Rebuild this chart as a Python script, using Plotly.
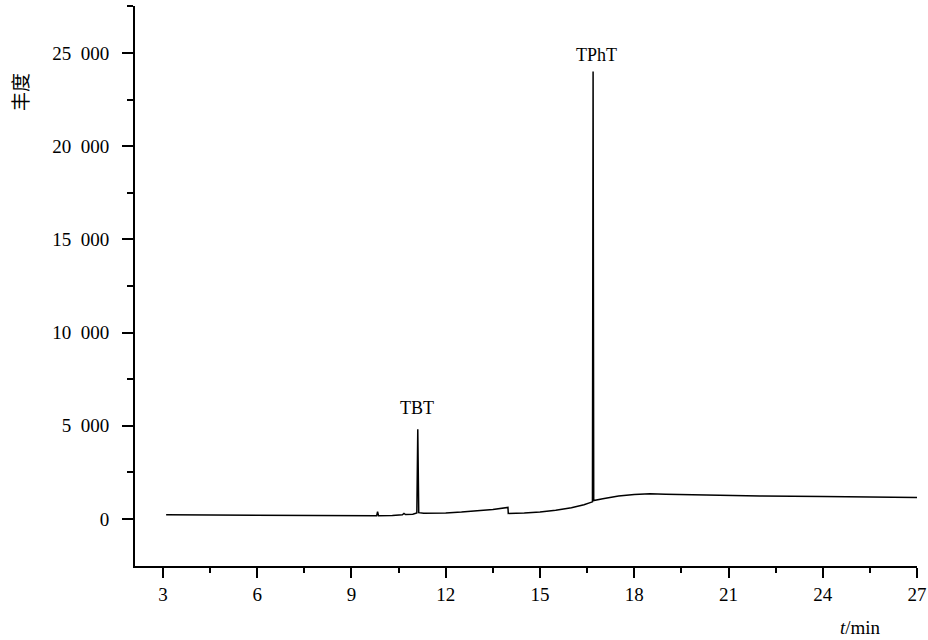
import plotly.graph_objects as go

# Retention time (min) and abundance
times = [3.1, 4.0, 5.0, 6.0, 7.0, 8.0, 9.0, 9.80, 9.83, 9.86, 10.3, 10.62, 10.67, 10.72,
         10.95, 11.08, 11.11, 11.14, 11.3, 12.0, 12.5, 13.0, 13.5, 13.98, 13.99, 14.5,
         15.0, 15.5, 16.0, 16.4, 16.67, 16.69, 16.71, 17.0, 17.5, 18.0, 18.5, 19.0,
         20.0, 22.0, 24.0, 26.0, 27.0]
abundance = [230, 220, 200, 190, 180, 170, 165, 170, 390, 175, 190, 230, 300, 240,
             260, 330, 4810, 340, 310, 320, 370, 430, 510, 620, 300, 320,
             370, 470, 600, 760, 920, 24000, 990, 1080, 1230, 1320, 1350, 1330,
             1290, 1240, 1210, 1170, 1150]

peak_names = ["TBT", "TPhT"]
peak_times = [11.1, 16.81]
peak_label_y = [5950, 24890]

x_major = [3, 6, 9, 12, 15, 18, 21, 24, 27]
y_major = [0, 5000, 10000, 15000, 20000, 25000]
y_major_text = ["0", "5\u2002000", "10\u2002000", "15\u2002000", "20\u2002000", "25\u2002000"]

serif = "Liberation Serif, DejaVu Serif, serif"
ink = "#000000"

fig = go.Figure()
fig.add_trace(go.Scatter(x=times, y=abundance, mode="lines",
                         line=dict(color=ink, width=1.5), showlegend=False,
                         hoverinfo="x+y"))

for name, t, yl in zip(peak_names, peak_times, peak_label_y):
    fig.add_annotation(x=t, y=yl, text=name, showarrow=False,
                       font=dict(family=serif, size=18, color=ink),
                       xanchor="center", yanchor="middle")

fig.add_annotation(xref="paper", yref="paper", x=(860 - 135) / 782, y=(566 - 627) / 560,
                   text="<i>t</i>/min", showarrow=False,
                   font=dict(family=serif, size=19, color=ink),
                   xanchor="center", yanchor="middle")
fig.add_annotation(xref="paper", yref="paper", x=(19 - 135) / 782, y=(566 - 92) / 560,
                   text="丰度", showarrow=False, textangle=-90,
                   font=dict(family="Noto Sans CJK SC", size=19, color=ink),
                   xanchor="center", yanchor="middle")

fig.update_layout(
    width=928, height=640,
    margin=dict(l=135, r=11, t=6, b=74, autoexpand=False),
    paper_bgcolor="white", plot_bgcolor="white",
    showlegend=False,
    font=dict(family=serif, size=19, color=ink),
)
fig.update_xaxes(
    range=[2.109, 27.0], tickmode="array", tickvals=x_major, automargin=False,
    ticks="outside", ticklen=10, tickwidth=1.5, tickcolor=ink,
    showline=True, linewidth=2, linecolor=ink, showgrid=False, zeroline=False,
    minor=dict(tickvals=[4.5, 7.5, 10.5, 13.5, 16.5, 19.5, 22.5, 25.5],
               ticks="outside", ticklen=5, tickwidth=1.5, tickcolor=ink, showgrid=False),
    tickfont=dict(family=serif, size=19, color=ink),
)
fig.update_yaxes(
    range=[-2521, 27515], tickmode="array", tickvals=y_major, ticktext=y_major_text,
    automargin=False,
    ticks="outside", ticklen=11, tickwidth=1.5, tickcolor=ink,
    showline=True, linewidth=2, linecolor=ink, showgrid=False, zeroline=False,
    minor=dict(tickvals=[2500, 7500, 12500, 17500, 22500, 27500],
               ticks="outside", ticklen=6, tickwidth=1.5, tickcolor=ink, showgrid=False),
    tickfont=dict(family=serif, size=19, color=ink),
    ticklabelstandoff=9,
)

fig.write_html("out.html", config={"displayModeBar": False},
               post_script="document.body.style.margin='0';document.body.style.overflow='hidden';")
